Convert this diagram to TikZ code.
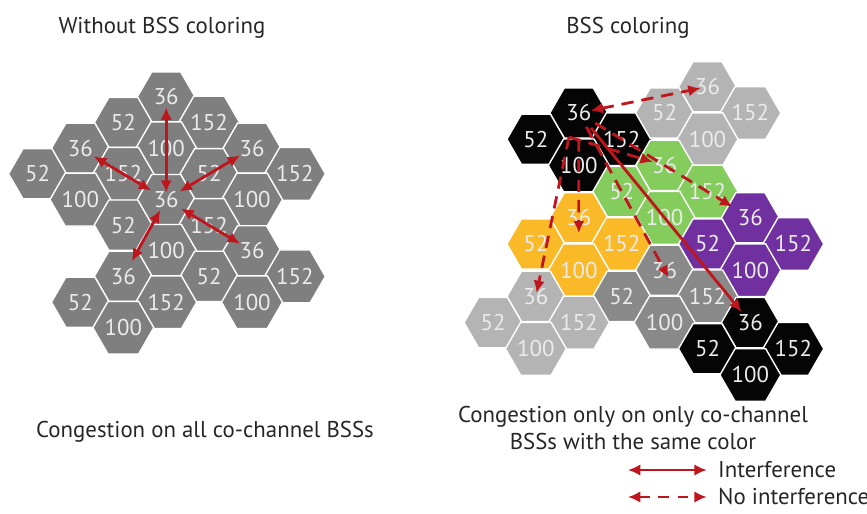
\documentclass[tikz,border=0pt]{standalone}
\usepackage{fontspec}
\setmainfont{PT Sans}
\usetikzlibrary{arrows.meta}
\usetikzlibrary{shapes.geometric}
\definecolor{bssred}{RGB}{190,22,28}
\definecolor{bssdeep}{RGB}{165,24,24}
\definecolor{darkgrey}{RGB}{127,127,127}
\definecolor{midgrey}{RGB}{137,137,137}
\definecolor{paleg}{RGB}{180,180,180}
\definecolor{bssgreen}{RGB}{132,204,92}
\definecolor{bssorange}{RGB}{250,186,40}
\definecolor{bsspurple}{RGB}{112,48,160}
\definecolor{bssblack}{RGB}{5,5,5}
\tikzset{
    cell/.style={
        shape=regular polygon,
        regular polygon sides=6,
        minimum size=1.16cm,
        inner sep=0pt,
        draw=white,
        line width=0.8pt,
        text=white!92!black,
        font=\fontsize{13}{13}\selectfont
    },
    clash/.style={
        draw=bssred,
        line width=1.6pt
    },
    noclash/.style={
        draw=bssred,
        line width=1.6pt,
        dash pattern=on 7pt off 4.5pt
    }
}

\begin{document}
\begin{tikzpicture}[x=0.02cm, y=-0.02cm,
    >={Latex[length=7pt,width=6.5pt]},
    every node/.style={font=\fontsize{13}{15.5}\selectfont, text=black!85}]
    \useasboundingbox (0,0) rectangle (867,514);

    % Titles
    \node (titleL) at (162,28) {Without BSS coloring};
    \node (titleR) at (628,28) {BSS coloring};

    % Cells - without coloring
    \node[cell, fill=darkgrey] (L36a) at (166.2,97) {36};
    \node[cell, fill=darkgrey] (L52a) at (123.3,122.5) {52};
    \node[cell, fill=darkgrey] (L152a) at (209.1,122.5) {152};
    \node[cell, fill=darkgrey] (L100a) at (166.2,148.3) {100};
    \node[cell, fill=darkgrey] (L36b) at (80.4,148.3) {36};
    \node[cell, fill=darkgrey] (L52b) at (37.5,173.8) {52};
    \node[cell, fill=darkgrey] (L152b) at (123.3,173.8) {152};
    \node[cell, fill=darkgrey] (L100b) at (80.4,199.6) {100};
    \node[cell, fill=darkgrey] (L36c) at (252,148.3) {36};
    \node[cell, fill=darkgrey] (L52c) at (209.1,173.8) {52};
    \node[cell, fill=darkgrey] (L152c) at (294.9,173.8) {152};
    \node[cell, fill=darkgrey] (L100c) at (252,199.6) {100};
    \node[cell, fill=darkgrey] (L36) at (166.2,199.6) {36};
    \node[cell, fill=darkgrey] (L52) at (123.3,225.1) {52};
    \node[cell, fill=darkgrey] (L152) at (209.1,225.1) {152};
    \node[cell, fill=darkgrey] (L100) at (166.2,250.9) {100};
    \node[cell, fill=darkgrey] (L36d) at (252,250.9) {36};
    \node[cell, fill=darkgrey] (L52d) at (209.1,276.4) {52};
    \node[cell, fill=darkgrey] (L152d) at (294.9,276.4) {152};
    \node[cell, fill=darkgrey] (L100d) at (252,302.2) {100};
    \node[cell, fill=darkgrey] (L36e) at (123.3,276.4) {36};
    \node[cell, fill=darkgrey] (L52e) at (80.4,302.2) {52};
    \node[cell, fill=darkgrey] (L152e) at (166.2,302.2) {152};
    \node[cell, fill=darkgrey] (L100e) at (123.3,327.7) {100};

    % Interference - without coloring
    \draw[clash, <->, shorten <=6pt, shorten >=4pt] (L36a.center) -- (L36.center);
    \draw[clash, <->, shorten <=9pt, shorten >=10pt] (L36b.center) -- (L36.center);
    \draw[clash, <->, shorten <=8pt, shorten >=9pt] (L36c.center) -- (L36.center);
    \draw[clash, <->, shorten <=8pt, shorten >=10pt] (L36d.center) -- (L36.center);
    \draw[clash, <->, shorten <=10pt, shorten >=7pt] (L36e.center) -- (L36.center);

    % Cells - with coloring
    \node[cell, fill=bssblack] (rK36) at (578.8,113) {36};
    \node[cell, fill=bssblack] (rK52) at (535.9,139.2) {52};
    \node[cell, fill=bssblack] (rK152) at (621.7,139.2) {152};
    \node[cell, fill=bssblack] (rK100) at (578.8,165.4) {100};
    \node[cell, fill=paleg] (rT36) at (707.5,86.8) {36};
    \node[cell, fill=paleg] (rT52) at (664.6,113) {52};
    \node[cell, fill=paleg] (rT152) at (750.4,113) {152};
    \node[cell, fill=paleg] (rT100) at (707.5,139.2) {100};
    \node[cell, fill=bssgreen] (rG36) at (664.6,165.4) {36};
    \node[cell, fill=bssgreen] (rG52) at (621.7,191.6) {52};
    \node[cell, fill=bssgreen] (rG152) at (707.5,191.6) {152};
    \node[cell, fill=bssgreen] (rG100) at (664.6,217.8) {100};
    \node[cell, fill=bssorange] (rO36) at (578.8,217.8) {36};
    \node[cell, fill=bssorange] (rO52) at (535.9,244) {52};
    \node[cell, fill=bssorange] (rO152) at (621.7,244) {152};
    \node[cell, fill=bssorange] (rO100) at (578.8,270.2) {100};
    \node[cell, fill=bsspurple] (rP36) at (750.4,217.8) {36};
    \node[cell, fill=bsspurple] (rP52) at (707.5,244) {52};
    \node[cell, fill=bsspurple] (rP152) at (793.3,244) {152};
    \node[cell, fill=bsspurple] (rP100) at (750.4,270.2) {100};
    \node[cell, fill=midgrey] (rD36) at (664.6,270.2) {36};
    \node[cell, fill=midgrey] (rD52) at (621.7,296.4) {52};
    \node[cell, fill=midgrey] (rD152) at (707.5,296.4) {152};
    \node[cell, fill=midgrey] (rD100) at (664.6,322.6) {100};
    \node[cell, fill=paleg] (rW36) at (535.9,296.4) {36};
    \node[cell, fill=paleg] (rW52) at (493,322.6) {52};
    \node[cell, fill=paleg] (rW152) at (578.8,322.6) {152};
    \node[cell, fill=paleg] (rW100) at (535.9,348.8) {100};
    \node[cell, fill=bssblack] (rB36) at (750.4,322.6) {36};
    \node[cell, fill=bssblack] (rB52) at (707.5,348.8) {52};
    \node[cell, fill=bssblack] (rB152) at (793.3,348.8) {152};
    \node[cell, fill=bssblack] (rB100) at (750.4,375) {100};

    % Interference - with coloring
    \coordinate (hub) at (569,137);
    \begin{scope}[every path/.append style={draw=bssdeep}]
    \draw[noclash, <->, shorten <=7pt, shorten >=4pt] (rK36.center) -- (rT36.center);
    \draw[noclash, ->, shorten >=2pt] (hub) -- (rW36.center);
    \draw[noclash, ->, shorten <=15pt, shorten >=6pt] (rK36.center) -- (rO36.south);
    \draw[noclash, ->, shorten >=7pt] (hub) -- (rG36.center);
    \draw[noclash, ->, shorten <=11pt, shorten >=12pt] (rK36.center) -- (rP36.center);
    \draw[noclash, ->, shorten <=9pt, shorten >=-5pt] (rK36.center) -- (rD36.center);
    \draw[clash, ->, shorten <=11pt, shorten >=8pt] (rK36.center) -- (rB36.center);
    \end{scope}

    % Captions
    \node (capL) at (205,432) {Congestion on all co-channel BSSs};
    \node[align=center] (capR) at (633,428) {Congestion only on only co-channel\\BSSs with the same color};

    % Legend
    \coordinate (keyA) at (628,470);
    \coordinate (keyB) at (628,497);
    \node[anchor=west] (keyclash) at (712,470) {Interference};
    \node[anchor=west] (keyfree) at (712,497) {No interference};
    \draw[clash, <->, shorten >=3pt] (keyA) -- (keyclash.west);
    \draw[noclash, <->, dash pattern=on 6pt off 5pt, shorten >=3pt] (keyB) -- (keyfree.west);
\end{tikzpicture}
\end{document}
